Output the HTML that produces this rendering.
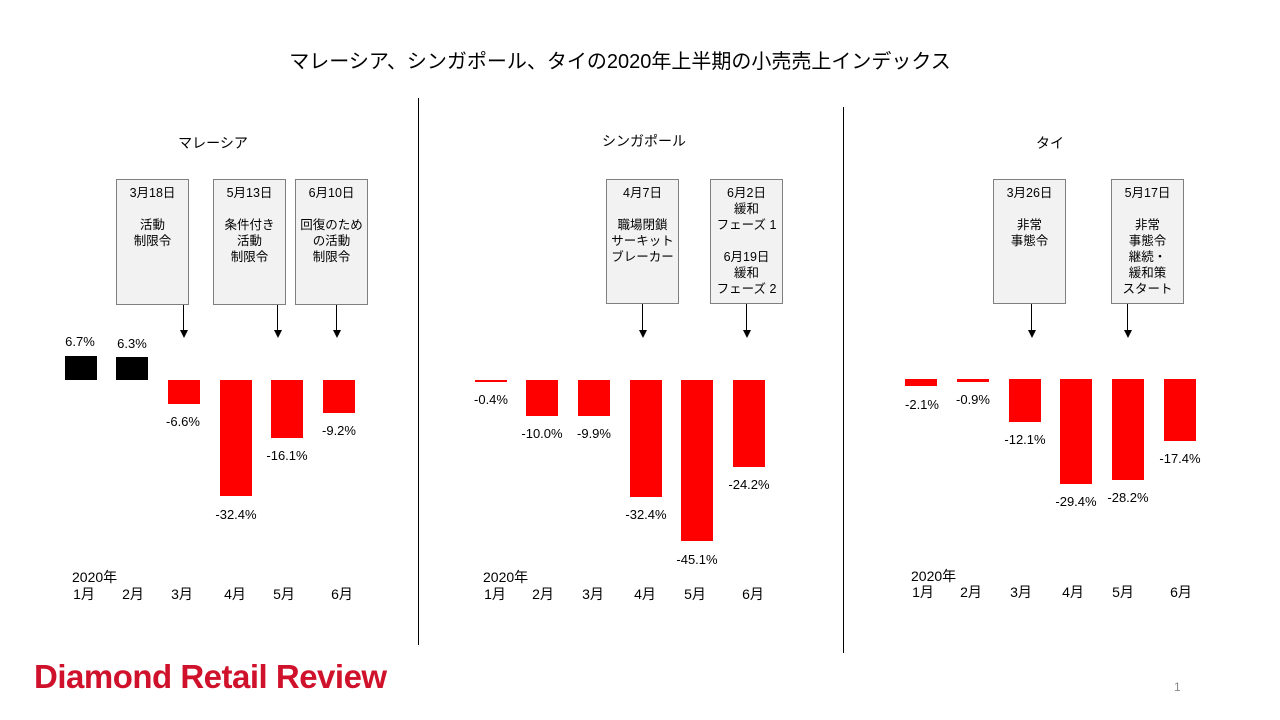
<!DOCTYPE html>
<html><head><meta charset="utf-8"><style>
body{margin:0;width:1280px;height:720px;background:#fff;position:relative;overflow:hidden;font-family:"Liberation Sans","Noto Sans CJK JP",sans-serif;color:#000}
div{position:absolute}
.t{font-size:13px;text-align:center;width:80px;margin-left:-40px;white-space:nowrap}
.m{font-size:14px;text-align:center;width:40px;margin-left:-20px}
.bx{background:#f2f2f2;border:1px solid #7f7f7f;font-size:12.5px;text-align:center;line-height:16px;box-sizing:border-box;padding-top:5px}
.r{background:#ff0000}.k{background:#000}
.ar{width:1px;background:#000}
.ah{width:0;height:0;border-left:4px solid transparent;border-right:4px solid transparent;border-top:8px solid #000;margin-left:-4px}
</style></head><body>
<div style="left:0;width:1240px;top:45px;text-align:center;font-size:20px">マレーシア、シンガポール、タイの2020年上半期の小売売上インデックス</div>
<div style="left:418px;top:98px;width:1px;height:547px;background:#000"></div>
<div style="left:843px;top:107px;width:1px;height:546px;background:#000"></div>

<div class="t" style="left:213px;top:133px;font-size:14px">マレーシア</div>
<div class="t" style="left:642px;top:131px;font-size:14px">シンガポール</div>
<div class="t" style="left:1050px;top:133px;font-size:14px">タイ</div>

<!-- Malaysia -->
<div class="bx" style="left:116px;top:179px;width:73px;height:126px">3月18日<br><br>活動<br>制限令</div>
<div class="bx" style="left:213px;top:179px;width:73px;height:126px">5月13日<br><br>条件付き<br>活動<br>制限令</div>
<div class="bx" style="left:295px;top:179px;width:73px;height:126px">6月10日<br><br>回復のため<br>の活動<br>制限令</div>
<div class="ar" style="left:183px;top:305px;height:26px"></div><div class="ah" style="left:183.5px;top:330px"></div>
<div class="ar" style="left:277px;top:305px;height:26px"></div><div class="ah" style="left:277.5px;top:330px"></div>
<div class="ar" style="left:336px;top:305px;height:26px"></div><div class="ah" style="left:336.5px;top:330px"></div>
<div class="k" style="left:65px;top:356px;width:32px;height:24px"></div>
<div class="k" style="left:116px;top:357px;width:32px;height:23px"></div>
<div class="r" style="left:168px;top:380px;width:32px;height:24px"></div>
<div class="r" style="left:220px;top:380px;width:32px;height:116px"></div>
<div class="r" style="left:271px;top:380px;width:32px;height:58px"></div>
<div class="r" style="left:323px;top:380px;width:32px;height:33px"></div>
<div class="t" style="left:80px;top:334px">6.7%</div>
<div class="t" style="left:132px;top:336px">6.3%</div>
<div class="t" style="left:183px;top:414px">-6.6%</div>
<div class="t" style="left:236px;top:507px">-32.4%</div>
<div class="t" style="left:287px;top:448px">-16.1%</div>
<div class="t" style="left:339px;top:423px">-9.2%</div>
<div style="left:72px;top:567px;font-size:14px">2020年</div>
<div class="m" style="left:84px;top:584px">1月</div><div class="m" style="left:133px;top:584px">2月</div><div class="m" style="left:182px;top:584px">3月</div><div class="m" style="left:235px;top:584px">4月</div><div class="m" style="left:284px;top:584px">5月</div><div class="m" style="left:342px;top:584px">6月</div>

<!-- Singapore -->
<div class="bx" style="left:606px;top:179px;width:73px;height:125px">4月7日<br><br>職場閉鎖<br>サーキット<br>ブレーカー</div>
<div class="bx" style="left:710px;top:179px;width:73px;height:125px">6月2日<br>緩和<br>フェーズ 1<br><br>6月19日<br>緩和<br>フェーズ 2</div>
<div class="ar" style="left:642px;top:304px;height:27px"></div><div class="ah" style="left:642.5px;top:330px"></div>
<div class="ar" style="left:746px;top:304px;height:27px"></div><div class="ah" style="left:746.5px;top:330px"></div>
<div class="r" style="left:475px;top:380px;width:32px;height:2px"></div>
<div class="r" style="left:526px;top:380px;width:32px;height:36px"></div>
<div class="r" style="left:578px;top:380px;width:32px;height:36px"></div>
<div class="r" style="left:630px;top:380px;width:32px;height:117px"></div>
<div class="r" style="left:681px;top:380px;width:32px;height:161px"></div>
<div class="r" style="left:733px;top:380px;width:32px;height:87px"></div>
<div class="t" style="left:491px;top:392px">-0.4%</div>
<div class="t" style="left:542px;top:426px">-10.0%</div>
<div class="t" style="left:594px;top:426px">-9.9%</div>
<div class="t" style="left:646px;top:507px">-32.4%</div>
<div class="t" style="left:697px;top:552px">-45.1%</div>
<div class="t" style="left:749px;top:477px">-24.2%</div>
<div style="left:483px;top:567px;font-size:14px">2020年</div>
<div class="m" style="left:495px;top:584px">1月</div><div class="m" style="left:543px;top:584px">2月</div><div class="m" style="left:593px;top:584px">3月</div><div class="m" style="left:645px;top:584px">4月</div><div class="m" style="left:695px;top:584px">5月</div><div class="m" style="left:753px;top:584px">6月</div>

<!-- Thailand -->
<div class="bx" style="left:993px;top:179px;width:73px;height:125px">3月26日<br><br>非常<br>事態令</div>
<div class="bx" style="left:1111px;top:179px;width:73px;height:125px">5月17日<br><br>非常<br>事態令<br>継続・<br>緩和策<br>スタート</div>
<div class="ar" style="left:1031px;top:304px;height:27px"></div><div class="ah" style="left:1031.5px;top:330px"></div>
<div class="ar" style="left:1127px;top:304px;height:27px"></div><div class="ah" style="left:1127.5px;top:330px"></div>
<div class="r" style="left:905px;top:379px;width:32px;height:7px"></div>
<div class="r" style="left:957px;top:379px;width:32px;height:3px"></div>
<div class="r" style="left:1009px;top:379px;width:32px;height:43px"></div>
<div class="r" style="left:1060px;top:379px;width:32px;height:105px"></div>
<div class="r" style="left:1112px;top:379px;width:32px;height:101px"></div>
<div class="r" style="left:1164px;top:379px;width:32px;height:62px"></div>
<div class="t" style="left:922px;top:397px">-2.1%</div>
<div class="t" style="left:973px;top:392px">-0.9%</div>
<div class="t" style="left:1025px;top:432px">-12.1%</div>
<div class="t" style="left:1076px;top:494px">-29.4%</div>
<div class="t" style="left:1128px;top:490px">-28.2%</div>
<div class="t" style="left:1180px;top:451px">-17.4%</div>
<div style="left:911px;top:566px;font-size:14px">2020年</div>
<div class="m" style="left:923px;top:582px">1月</div><div class="m" style="left:971px;top:582px">2月</div><div class="m" style="left:1021px;top:582px">3月</div><div class="m" style="left:1073px;top:582px">4月</div><div class="m" style="left:1123px;top:582px">5月</div><div class="m" style="left:1181px;top:582px">6月</div>

<div style="left:34px;top:658px;font-size:33px;font-weight:bold;color:#d0112b;letter-spacing:-0.5px;white-space:nowrap">Diamond Retail Review</div>
<div style="left:1174px;top:680px;font-size:12px;color:#888">1</div>
</body></html>
